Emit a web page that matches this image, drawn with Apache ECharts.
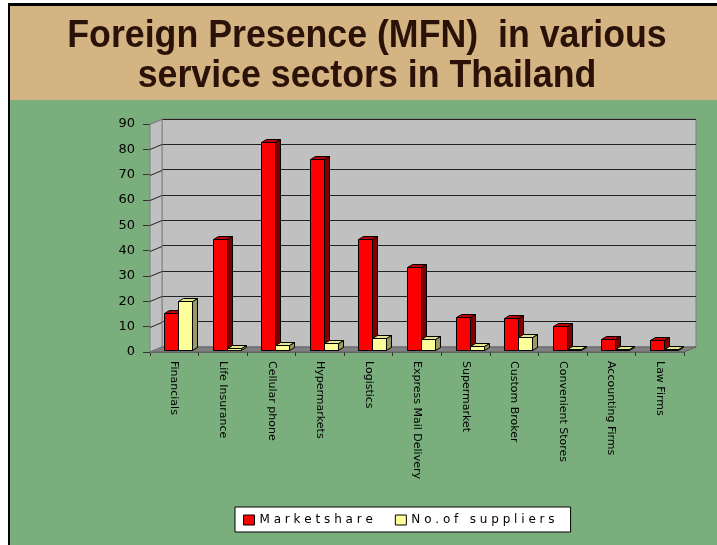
<!DOCTYPE html>
<html>
<head>
<meta charset="utf-8">
<title>Foreign Presence (MFN) in various service sectors in Thailand</title>
<script src="https://cdn.jsdelivr.net/npm/echarts@6/dist/echarts.min.js"></script>
<style>
    html, body { margin: 0; padding: 0; background: #fff; overflow: hidden; }
    #wrap { position: relative; width: 717px; height: 545px; overflow: hidden; }
    .band { position: absolute; left: 8px; top: 3px; width: 720px; height: 94px;
        background: #d4b483; border-left: 2px solid #000; border-top: 3px solid #000; }
    .field { position: absolute; left: 8px; top: 100px; width: 720px; height: 460px;
        background: #7aae7d; border-left: 2px solid #000; }
    #chart { position: absolute; left: 0; top: 0; width: 717px; height: 545px; }
</style>
</head>
<body>
<div id="wrap">
    <div class="band"></div>
    <div class="field"></div>
    <div id="chart"></div>
</div>
<script>
var categories = ['Financials', 'Life Insurance', 'Cellular phone', 'Hypermarkets', 'Logistics',
    'Express Mail Delivery', 'Supermarket', 'Custom Broker', 'Convenient Stores',
    'Accounting Firms', 'Law Firms'];
var marketShare = [14.5, 43.7, 82, 75.3, 43.7, 32.9, 13.1, 12.5, 9.5, 4.3, 3.9];
var suppliers = [19.5, 0.9, 2, 2.9, 4.9, 4.2, 1.6, 5.3, 0.5, 0.5, 0.5];
var yTicks = [0, 10, 20, 30, 40, 50, 60, 70, 80, 90];

// front plane of the 3d box, the back wall sits WALL px right and up
var FRONT = { left: 150, top: 124, width: 534, height: 228 };
var WALL = [12, 5];
var BAR_SHIFT = [4, 2];
var BAR_DEPTH = [5, 3];

var red = { front: '#ff0000', side: '#800000', top: '#c00000' };
var yellow = { front: '#ffff99', side: '#999966', top: '#e6e68c' };

function renderBar3d(colors, slot) {
    return function (params, api) {
        var cat = api.value(0);
        var top = api.coord([cat, api.value(1)]);
        var base = api.coord([cat, 0]);
        var cw = api.size([1, 0])[0];
        var w = Math.round(cw * 0.29);
        var x0 = Math.round(base[0] - w + slot * w + BAR_SHIFT[0]) + 0.5;
        var x1 = x0 + w;
        var yT = Math.round(top[1] - BAR_SHIFT[1]) + 0.5;
        var yB = Math.round(base[1] - BAR_SHIFT[1]) + 0.5;
        var dx = BAR_DEPTH[0], dy = BAR_DEPTH[1];
        var stroke = { stroke: '#000', lineWidth: 1 };
        return {
            type: 'group',
            children: [
                {
                    type: 'polygon',
                    shape: { points: [[x1, yT], [x1 + dx, yT - dy], [x1 + dx, yB - dy], [x1, yB]] },
                    style: Object.assign({ fill: colors.side }, stroke)
                },
                {
                    type: 'polygon',
                    shape: { points: [[x0, yT], [x0 + dx, yT - dy], [x1 + dx, yT - dy], [x1, yT]] },
                    style: Object.assign({ fill: colors.top }, stroke)
                },
                {
                    type: 'rect',
                    shape: { x: x0, y: yT, width: w, height: Math.max(yB - yT, 0) },
                    style: Object.assign({ fill: colors.front }, stroke)
                }
            ]
        };
    };
}

function renderWalls(params, api) {
    var cs = params.coordSys;
    var dx = WALL[0], dy = WALL[1];
    var bottom = cs.y + cs.height;
    var children = [
        {
            type: 'polygon',
            shape: { points: [[cs.x, cs.y], [cs.x + dx, cs.y - dy], [cs.x + dx, bottom - dy], [cs.x, bottom]] },
            style: { fill: '#c0c0c0', stroke: '#808080', lineWidth: 1 }
        },
        {
            type: 'polygon',
            shape: { points: [[cs.x, bottom], [cs.x + cs.width, bottom], [cs.x + cs.width + dx, bottom - dy], [cs.x + dx, bottom - dy]] },
            style: { fill: '#808080', stroke: '#606060', lineWidth: 1 }
        }
    ];
    yTicks.forEach(function (t) {
        var y = Math.round(api.coord([0, t])[1]) + 0.5;
        children.push({
            type: 'line',
            shape: { x1: cs.x, y1: y, x2: cs.x + dx, y2: y - dy },
            style: { stroke: t === 0 || t === 90 ? '#808080' : '#222', lineWidth: 1 }
        });
    });
    return { type: 'group', children: children };
}

var chart = echarts.init(document.getElementById('chart'), null, { renderer: 'canvas' });

var labelFont = 'DejaVu Sans';

chart.setOption({
    animation: false,
    backgroundColor: 'transparent',
    graphic: [
        {
            type: 'text',
            x: 367,
            y: 17,
            scaleX: 0.94,
            z: 100,
            style: {
                text: 'Foreign Presence (MFN)  in various\nservice sectors in Thailand',
                font: 'bold 38px "Liberation Sans", Arial, sans-serif',
                fill: '#2b1208',
                textAlign: 'center',
                lineHeight: 40
            }
        }
    ],
    grid: [
        { left: FRONT.left, top: FRONT.top, width: FRONT.width, height: FRONT.height },
        {
            left: FRONT.left + WALL[0], top: FRONT.top - WALL[1], width: FRONT.width, height: FRONT.height,
            show: true, backgroundColor: '#c0c0c0', borderColor: '#808080', borderWidth: 1
        }
    ],
    xAxis: [
        {
            type: 'category',
            gridIndex: 0,
            data: categories,
            axisLine: { lineStyle: { color: '#666', width: 1 } },
            axisTick: { show: true, length: 4, lineStyle: { color: '#333' } },
            axisLabel: {
                interval: 0,
                rotate: -90,
                margin: 9,
                color: '#000',
                fontFamily: labelFont,
                fontSize: 11
            }
        },
        { type: 'category', gridIndex: 1, data: categories, show: false }
    ],
    yAxis: [
        {
            type: 'value',
            gridIndex: 0,
            min: 0,
            max: 90,
            interval: 10,
            axisLine: { show: true, lineStyle: { color: '#808080' } },
            axisTick: { show: true, length: 7, lineStyle: { color: '#333' } },
            axisLabel: { margin: 15, color: '#000', fontFamily: labelFont, fontSize: 13 },
            splitLine: { show: false }
        },
        {
            type: 'value',
            gridIndex: 1,
            min: 0,
            max: 90,
            interval: 10,
            axisLine: { show: false },
            axisTick: { show: false },
            axisLabel: { show: false },
            splitLine: { show: true, lineStyle: { color: '#222', width: 1 } }
        }
    ],
    legend: {
        left: 235,
        top: 507,
        orient: 'horizontal',
        backgroundColor: '#fff',
        borderColor: '#000',
        borderWidth: 1,
        borderRadius: 0,
        padding: [7, 16, 6, 8],
        itemWidth: 11,
        itemHeight: 10,
        itemGap: 22,
        icon: 'rect',
        textStyle: { color: '#000', fontFamily: labelFont, fontSize: 12 },
        formatter: function (name) {
            return name.split('').join(' ');
        },
        data: [
            { name: 'Marketshare', itemStyle: { color: red.front, borderColor: '#000', borderWidth: 1 } },
            { name: 'No.of suppliers', itemStyle: { color: yellow.front, borderColor: '#000', borderWidth: 1 } }
        ]
    },
    series: [
        {
            type: 'custom',
            name: 'walls',
            xAxisIndex: 0,
            yAxisIndex: 0,
            z: 1,
            silent: true,
            clip: false,
            renderItem: renderWalls,
            data: [[0, 0]]
        },
        {
            type: 'custom',
            name: 'Marketshare',
            xAxisIndex: 0,
            yAxisIndex: 0,
            z: 2,
            clip: false,
            itemStyle: { color: red.front },
            renderItem: renderBar3d(red, 0),
            data: marketShare.map(function (v, i) { return [i, v]; })
        },
        {
            type: 'custom',
            name: 'No.of suppliers',
            xAxisIndex: 0,
            yAxisIndex: 0,
            z: 3,
            clip: false,
            itemStyle: { color: yellow.front },
            renderItem: renderBar3d(yellow, 1),
            data: suppliers.map(function (v, i) { return [i, v]; })
        }
    ]
});
</script>
</body>
</html>
